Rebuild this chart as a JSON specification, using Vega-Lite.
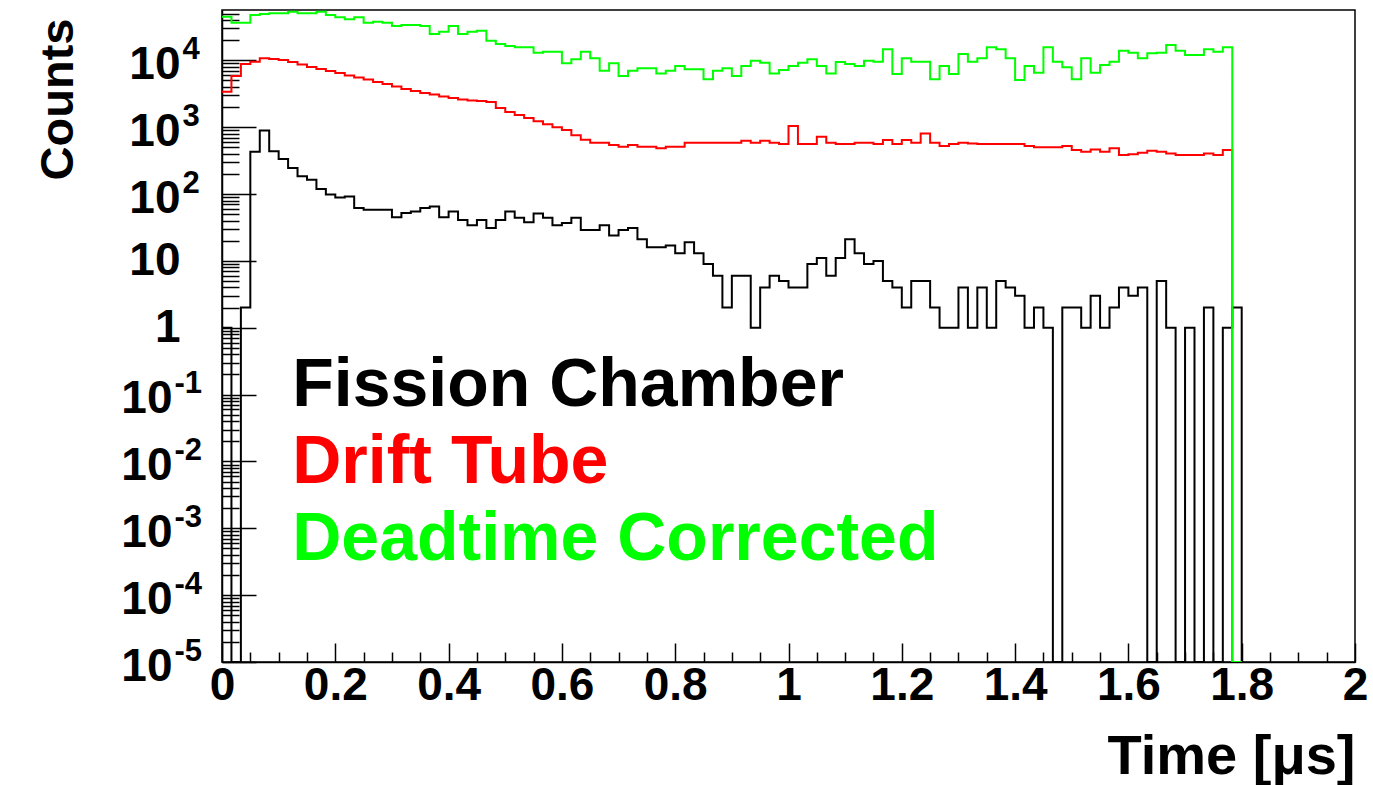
{
  "$schema": "https://vega.github.io/schema/vega-lite/v6.json",
  "width": 1133,
  "height": 652,
  "autosize": {"type": "none"},
  "padding": {"left": 222, "top": 10, "right": 18, "bottom": 123},
  "background": "white",
  "config": {
    "view": {"stroke": "#000000", "strokeWidth": 1.5},
    "axis": {
      "grid": false,
      "labelFont": "Liberation Sans",
      "labelFontWeight": "bold",
      "titleFont": "Liberation Sans",
      "titleFontWeight": "bold",
      "labelColor": "#000000",
      "titleColor": "#000000",
      "tickColor": "#000000",
      "domainColor": "#000000",
      "tickWidth": 1.5,
      "domainWidth": 1.5
    }
  },
  "datasets": {
    "hist": [
      {"t": 0, "fc": 1, "dt": 3390, "dc": 44960},
      {"t": 0.01667, "fc": 0, "dt": 5820, "dc": 36550},
      {"t": 0.03333, "fc": 2, "dt": 8810, "dc": 36550},
      {"t": 0.05, "fc": 430, "dt": 9530, "dc": 47650},
      {"t": 0.06667, "fc": 890, "dt": 10710, "dc": 49300},
      {"t": 0.08333, "fc": 436, "dt": 10460, "dc": 50550},
      {"t": 0.1, "fc": 335, "dt": 10100, "dc": 50550},
      {"t": 0.11667, "fc": 246, "dt": 9430, "dc": 53400},
      {"t": 0.13333, "fc": 184, "dt": 8650, "dc": 50550},
      {"t": 0.15, "fc": 164, "dt": 7940, "dc": 50550},
      {"t": 0.16667, "fc": 119, "dt": 7410, "dc": 53400},
      {"t": 0.18333, "fc": 98, "dt": 6920, "dc": 47650},
      {"t": 0.2, "fc": 89, "dt": 6460, "dc": 44030},
      {"t": 0.21667, "fc": 92, "dt": 5920, "dc": 41100},
      {"t": 0.23333, "fc": 62, "dt": 5530, "dc": 44030},
      {"t": 0.25, "fc": 58, "dt": 5160, "dc": 36550},
      {"t": 0.26667, "fc": 58, "dt": 4730, "dc": 37840},
      {"t": 0.28333, "fc": 58, "dt": 4420, "dc": 36550},
      {"t": 0.3, "fc": 45, "dt": 4050, "dc": 32620},
      {"t": 0.31667, "fc": 52, "dt": 3720, "dc": 33750},
      {"t": 0.33333, "fc": 55, "dt": 3470, "dc": 33750},
      {"t": 0.35, "fc": 62, "dt": 3240, "dc": 32620},
      {"t": 0.36667, "fc": 65, "dt": 3080, "dc": 24770},
      {"t": 0.38333, "fc": 45, "dt": 2870, "dc": 26800},
      {"t": 0.4, "fc": 55, "dt": 2730, "dc": 32620},
      {"t": 0.41667, "fc": 41, "dt": 2590, "dc": 24770},
      {"t": 0.43333, "fc": 34, "dt": 2500, "dc": 26800},
      {"t": 0.45, "fc": 41, "dt": 2460, "dc": 27740},
      {"t": 0.46667, "fc": 31, "dt": 2380, "dc": 19650},
      {"t": 0.48333, "fc": 41, "dt": 1930, "dc": 17540},
      {"t": 0.5, "fc": 55, "dt": 1680, "dc": 16370},
      {"t": 0.51667, "fc": 44, "dt": 1520, "dc": 15660},
      {"t": 0.53333, "fc": 38, "dt": 1370, "dc": 15660},
      {"t": 0.55, "fc": 51, "dt": 1230, "dc": 13000},
      {"t": 0.56667, "fc": 44, "dt": 1110, "dc": 13460},
      {"t": 0.58333, "fc": 34, "dt": 1000, "dc": 13460},
      {"t": 0.6, "fc": 37, "dt": 905, "dc": 9020},
      {"t": 0.61667, "fc": 44, "dt": 760, "dc": 10350},
      {"t": 0.63333, "fc": 29, "dt": 650, "dc": 13460},
      {"t": 0.65, "fc": 29, "dt": 584, "dc": 10710},
      {"t": 0.66667, "fc": 34, "dt": 584, "dc": 6990},
      {"t": 0.68333, "fc": 24, "dt": 540, "dc": 9020},
      {"t": 0.7, "fc": 29, "dt": 509, "dc": 5820},
      {"t": 0.71667, "fc": 31, "dt": 540, "dc": 6990},
      {"t": 0.73333, "fc": 21, "dt": 509, "dc": 7590},
      {"t": 0.75, "fc": 16, "dt": 509, "dc": 7590},
      {"t": 0.76667, "fc": 16, "dt": 482, "dc": 6380},
      {"t": 0.78333, "fc": 17, "dt": 509, "dc": 6990},
      {"t": 0.8, "fc": 13, "dt": 509, "dc": 8220},
      {"t": 0.81667, "fc": 19, "dt": 584, "dc": 7330},
      {"t": 0.83333, "fc": 13, "dt": 584, "dc": 7330},
      {"t": 0.85, "fc": 9, "dt": 584, "dc": 5200},
      {"t": 0.86667, "fc": 6, "dt": 584, "dc": 6990},
      {"t": 0.88333, "fc": 2, "dt": 584, "dc": 7590},
      {"t": 0.9, "fc": 6, "dt": 584, "dc": 5820},
      {"t": 0.91667, "fc": 6, "dt": 626, "dc": 8220},
      {"t": 0.93333, "fc": 1, "dt": 584, "dc": 9860},
      {"t": 0.95, "fc": 4, "dt": 626, "dc": 9200},
      {"t": 0.96667, "fc": 6, "dt": 584, "dc": 6380},
      {"t": 0.98333, "fc": 5, "dt": 558, "dc": 7160},
      {"t": 1, "fc": 4, "dt": 1040, "dc": 8220},
      {"t": 1.01667, "fc": 4, "dt": 558, "dc": 9200},
      {"t": 1.03333, "fc": 9, "dt": 558, "dc": 10350},
      {"t": 1.05, "fc": 11, "dt": 718, "dc": 8220},
      {"t": 1.06667, "fc": 6, "dt": 584, "dc": 6380},
      {"t": 1.08333, "fc": 11, "dt": 558, "dc": 9430},
      {"t": 1.1, "fc": 21, "dt": 558, "dc": 8810},
      {"t": 1.11667, "fc": 13, "dt": 584, "dc": 8220},
      {"t": 1.13333, "fc": 9, "dt": 584, "dc": 9860},
      {"t": 1.15, "fc": 10, "dt": 558, "dc": 9530},
      {"t": 1.16667, "fc": 5, "dt": 641, "dc": 14620},
      {"t": 1.18333, "fc": 4, "dt": 558, "dc": 6240},
      {"t": 1.2, "fc": 2, "dt": 641, "dc": 10710},
      {"t": 1.21667, "fc": 5, "dt": 584, "dc": 9530},
      {"t": 1.23333, "fc": 5, "dt": 807, "dc": 9530},
      {"t": 1.25, "fc": 2, "dt": 584, "dc": 5200},
      {"t": 1.26667, "fc": 1, "dt": 521, "dc": 8220},
      {"t": 1.28333, "fc": 1, "dt": 558, "dc": 6240},
      {"t": 1.3, "fc": 4, "dt": 584, "dc": 12420},
      {"t": 1.31667, "fc": 1, "dt": 572, "dc": 9530},
      {"t": 1.33333, "fc": 4, "dt": 558, "dc": 10710},
      {"t": 1.35, "fc": 1, "dt": 558, "dc": 15660},
      {"t": 1.36667, "fc": 5, "dt": 558, "dc": 14620},
      {"t": 1.38333, "fc": 4, "dt": 558, "dc": 10710},
      {"t": 1.4, "fc": 3, "dt": 558, "dc": 5070},
      {"t": 1.41667, "fc": 1, "dt": 521, "dc": 8220},
      {"t": 1.43333, "fc": 2, "dt": 499, "dc": 6520},
      {"t": 1.45, "fc": 1, "dt": 499, "dc": 15660},
      {"t": 1.46667, "fc": 0, "dt": 499, "dc": 9530},
      {"t": 1.48333, "fc": 2, "dt": 521, "dc": 7860},
      {"t": 1.5, "fc": 2, "dt": 454, "dc": 5200},
      {"t": 1.51667, "fc": 1, "dt": 428, "dc": 10710},
      {"t": 1.53333, "fc": 3, "dt": 465, "dc": 6520},
      {"t": 1.55, "fc": 1, "dt": 428, "dc": 8510},
      {"t": 1.56667, "fc": 2, "dt": 482, "dc": 9530},
      {"t": 1.58333, "fc": 4, "dt": 382, "dc": 13930},
      {"t": 1.6, "fc": 3, "dt": 395, "dc": 13000},
      {"t": 1.61667, "fc": 4, "dt": 414, "dc": 10710},
      {"t": 1.63333, "fc": 0, "dt": 444, "dc": 12730},
      {"t": 1.65, "fc": 5, "dt": 428, "dc": 13000},
      {"t": 1.66667, "fc": 1, "dt": 405, "dc": 16950},
      {"t": 1.68333, "fc": 0, "dt": 382, "dc": 13930},
      {"t": 1.7, "fc": 1, "dt": 382, "dc": 12000},
      {"t": 1.71667, "fc": 0, "dt": 382, "dc": 12000},
      {"t": 1.73333, "fc": 2, "dt": 405, "dc": 14620},
      {"t": 1.75, "fc": 0, "dt": 382, "dc": 13460},
      {"t": 1.76667, "fc": 1, "dt": 454, "dc": 15660},
      {"t": 1.78333, "fc": 2, "dt": 0, "dc": 0},
      {"t": 1.8, "fc": 0, "dt": 0, "dc": 0}
    ],
    "labels": [
      {"label": "Fission Chamber", "series": "fc", "t": 0.124, "count": 0.0668},
      {"label": "Drift Tube", "series": "dt", "t": 0.124, "count": 0.0047},
      {"label": "Deadtime Corrected", "series": "dc", "t": 0.124, "count": 0.00033}
    ]
  },
  "layer": [
    {
      "data": {"name": "hist"},
      "transform": [{"fold": ["fc", "dt", "dc"], "as": ["series", "count"]}],
      "mark": {"type": "line", "interpolate": "step-after", "strokeWidth": 2, "clip": true},
      "encoding": {
        "x": {
          "field": "t", "type": "quantitative",
          "scale": {"domain": [0, 2], "nice": false, "zero": false},
          "axis": {
            "orient": "bottom",
            "values": [0, 0.2, 0.4, 0.6, 0.8, 1, 1.2, 1.4, 1.6, 1.8, 2],
            "format": "~g",
            "tickSize": -19,
            "labelFontSize": 46,
            "labelPadding": 20,
            "labelFlush": false,
            "labelOverlap": false,
            "title": "Time [μs]",
            "titleFontSize": 56,
            "titleX": 1133,
            "titleY": 111,
            "titleAlign": "right",
            "titleAnchor": "end",
            "titleBaseline": "alphabetic"
          }
        },
        "y": {
          "field": "count", "type": "quantitative",
          "scale": {"type": "log", "domain": [0.00001, 56600], "nice": false, "clamp": true},
          "axis": {
            "orient": "left",
            "values": [0.00001, 0.0001, 0.001, 0.01, 0.1, 1, 10, 100, 1000, 10000],
            "labelExpr": "round(log(datum.value)/LN10) == 0 ? '1' : '10'",
            "tickSize": -34,
            "labelFontSize": 46,
            "labelPadding": {"condition": {"test": "round(log(datum.value)/LN10) < 0", "value": 84}, "value": 76},
            "labelOffset": {"condition": {"test": "round(log(datum.value)/LN10) == 0 || round(log(datum.value)/LN10) == 1", "value": 0}, "value": 4},
            "labelFlush": false,
            "labelOverlap": false,
            "title": "Counts",
            "titleFontSize": 47,
            "titleAngle": -90,
            "titleX": -150,
            "titleY": 8,
            "titleAlign": "right",
            "titleBaseline": "alphabetic"
          }
        },
        "color": {
          "field": "series", "type": "nominal",
          "scale": {"domain": ["fc", "dt", "dc"], "range": ["#000000", "#ff0000", "#00ff00"]},
          "legend": null
        }
      }
    },
    {
      "data": {"name": "labels"},
      "mark": {"type": "text", "font": "Liberation Sans", "fontWeight": "bold", "fontSize": 68, "align": "left", "baseline": "alphabetic"},
      "encoding": {
        "x": {
          "field": "t", "type": "quantitative",
          "axis": {
            "orient": "bottom",
            "values": [0.05, 0.1, 0.15, 0.25, 0.3, 0.35, 0.45, 0.5, 0.55, 0.65, 0.7, 0.75, 0.85, 0.9, 0.95, 1.05, 1.1, 1.15, 1.25, 1.3, 1.35, 1.45, 1.5, 1.55, 1.65, 1.7, 1.75, 1.85, 1.9, 1.95],
            "tickSize": -10,
            "labels": false,
            "domain": false,
            "title": null
          }
        },
        "y": {
          "field": "count", "type": "quantitative",
          "axis": {
            "orient": "left",
            "values": [0.00002, 0.00003, 0.00004, 0.00005, 0.00006, 0.00007, 0.00008, 0.00009, 0.0002, 0.0003, 0.0004, 0.0005, 0.0006, 0.0007, 0.0008, 0.0009, 0.002, 0.003, 0.004, 0.005, 0.006, 0.007, 0.008, 0.009, 0.02, 0.03, 0.04, 0.05, 0.06, 0.07, 0.08, 0.09, 0.2, 0.3, 0.4, 0.5, 0.6, 0.7, 0.8, 0.9, 2, 3, 4, 5, 6, 7, 8, 9, 20, 30, 40, 50, 60, 70, 80, 90, 200, 300, 400, 500, 600, 700, 800, 900, 2000, 3000, 4000, 5000, 6000, 7000, 8000, 9000, 20000, 30000, 40000, 50000],
            "tickSize": -17,
            "labels": false,
            "domain": false,
            "title": null
          }
        },
        "text": {"field": "label", "type": "nominal"},
        "color": {"field": "series", "type": "nominal"}
      }
    },
    {
      "data": {"name": "labels"},
      "mark": {"type": "point", "opacity": 0},
      "encoding": {
        "x": {"field": "t", "type": "quantitative", "axis": null},
        "y": {
          "field": "count", "type": "quantitative",
          "axis": {
            "orient": "left",
            "values": [0.00001, 0.0001, 0.001, 0.01, 0.1, 100, 1000, 10000],
            "labelExpr": "'' + round(log(datum.value)/LN10)",
            "ticks": false,
            "domain": false,
            "labelAlign": "left",
            "labelFontSize": 31,
            "labelPadding": {"condition": {"test": "round(log(datum.value)/LN10) < 0", "value": 48}, "value": 40},
            "labelOffset": -11,
            "labelFlush": false,
            "labelOverlap": false,
            "title": null
          }
        }
      }
    }
  ],
  "resolve": {"axis": {"x": "independent", "y": "independent"}}
}
